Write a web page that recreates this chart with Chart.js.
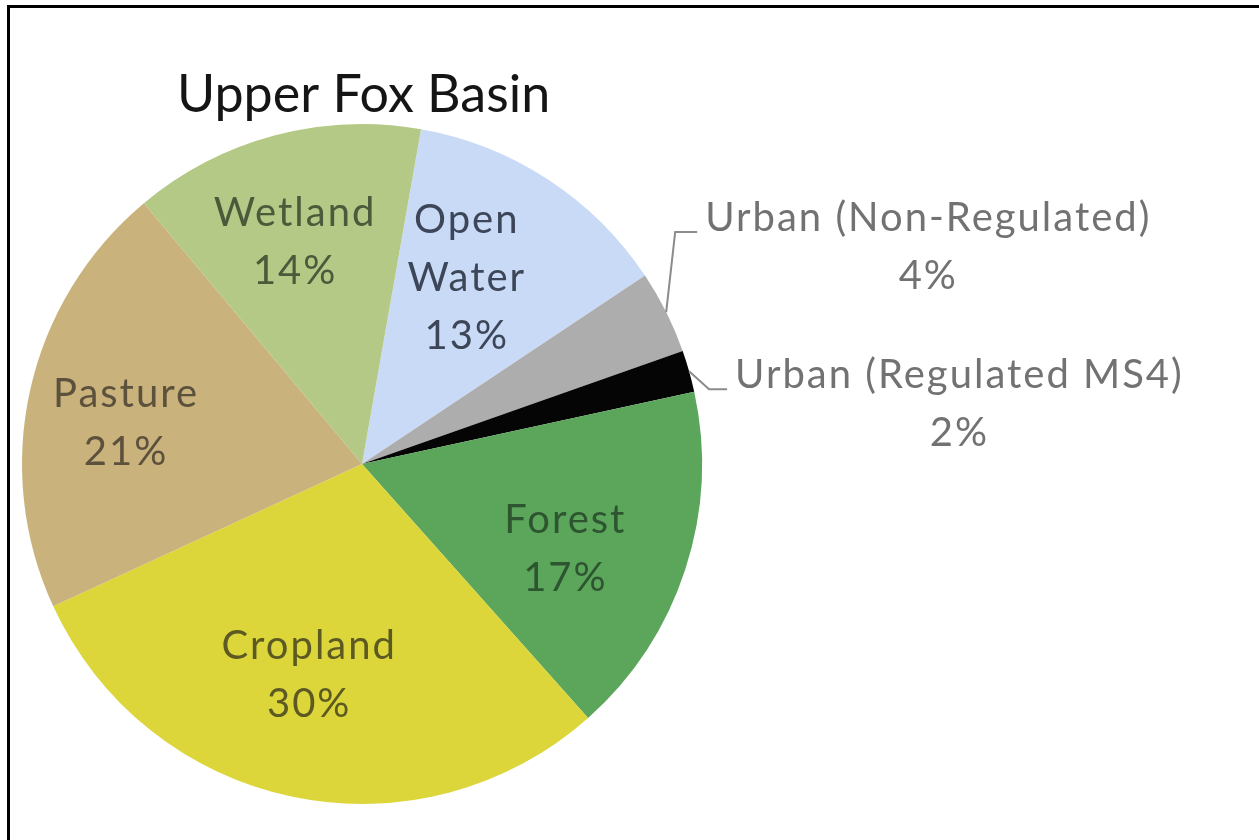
<!DOCTYPE html>
<html lang="en">
    <head>
        <meta charset="UTF-8">
        <title>Upper Fox Basin</title>
        <script src="https://cdn.jsdelivr.net/npm/chart.js"></script>
        <style>
            html, body { margin: 0; padding: 0; background: #fff; overflow: hidden; }
            .frame {
                position: absolute; left: 7px; top: 5px; width: 1300px; height: 900px;
                border-left: 3px solid #000; border-top: 3px solid #000;
            }
            .chart-container { position: absolute; left: 0; top: 0; width: 1259px; height: 840px; }
        </style>
    </head>
    <body>
        <div class="frame"></div>
        <div class="chart-container">
            <canvas id="pieChart" width="1259" height="840"></canvas>
        </div>

        <script>
            const categories = ['Open Water', 'Urban (Non-Regulated)', 'Urban (Regulated MS4)', 'Forest', 'Cropland', 'Pasture', 'Wetland'];
            const shares = [13, 4, 2, 17, 30, 21, 14];
            const labelLines = [['Open', 'Water'], ['Urban (Non-Regulated)'], ['Urban (Regulated MS4)'], ['Forest'], ['Cropland'], ['Pasture'], ['Wetland']];
            const sliceColors = ['#c9daf6', '#adadad', '#050505', '#5ca65c', '#dcd63b', '#c9b27c', '#b4c986'];
            const textColors = ['#3d4658', '#727272', '#727272', '#2d5530', '#5c5a22', '#5c513c', '#4a5a3a'];
            const outside = [false, true, true, false, false, false, false];
            // small hand nudges of the in-slice labels, px
            const labelNudge = [[-18, 2], [0, 0], [0, 0], [-10, 16], [-7, -9], [-17, 8], [-9, -5]];

            const FONT = '40px Lato, "Open Sans", sans-serif';
            const LINE_H = 58;

            // draws title, in-slice labels and the two callouts with leader lines
            const labelPlugin = {
                id: 'sliceLabels',
                afterDatasetsDraw(chart) {
                    const c = chart.ctx;
                    const arcs = chart.getDatasetMeta(0).data;
                    c.save();
                    c.font = '52px Lato, "Open Sans", sans-serif';
                    c.fillStyle = '#151515';
                    c.textAlign = 'left';
                    c.textBaseline = 'alphabetic';
                    c.fillText('Upper Fox Basin', 177, 112);

                    c.font = FONT;
                    c.letterSpacing = '2px';
                    c.textAlign = 'center';
                    c.textBaseline = 'middle';
                    arcs.forEach((arc, i) => {
                        const p = arc.getProps(['x', 'y', 'startAngle', 'endAngle', 'outerRadius']);
                        const mid = (p.startAngle + p.endAngle) / 2;
                        const lines = labelLines[i].concat([shares[i] + '%']);
                        c.fillStyle = textColors[i];
                        if (!outside[i]) {
                            const r = p.outerRadius * 0.66;
                            const cx = p.x + Math.cos(mid) * r + labelNudge[i][0];
                            const cy = p.y + Math.sin(mid) * r + labelNudge[i][1];
                            const top = cy - (lines.length - 1) * LINE_H / 2;
                            lines.forEach((t, k) => c.fillText(t, cx, top + k * LINE_H));
                        } else {
                            const ex = p.x + Math.cos(mid) * p.outerRadius;
                            const ey = p.y + Math.sin(mid) * p.outerRadius;
                            let bend, end;
                            if (i === 1) {
                                bend = [ex + 9, ey - 80];
                                end = [bend[0] + 22, bend[1]];
                            } else {
                                bend = [ex + 20, ey + 18];
                                end = [bend[0] + 18, bend[1]];
                            }
                            c.strokeStyle = '#8c8c8c';
                            c.lineWidth = 2;
                            c.beginPath();
                            c.moveTo(ex, ey);
                            c.lineTo(bend[0], bend[1]);
                            c.lineTo(end[0], end[1]);
                            c.stroke();
                            c.textAlign = 'left';
                            const w = c.measureText(lines[0]).width;
                            const lx = end[0] + 8;
                            const ly = end[1] - 14;
                            c.fillText(lines[0], lx, ly);
                            c.textAlign = 'center';
                            c.fillText(lines[1], lx + w / 2, ly + LINE_H);
                        }
                    });
                    c.restore();
                }
            };

            const ctx = document.getElementById('pieChart').getContext('2d');
            const chart = new Chart(ctx, {
                type: 'pie',
                data: {
                    labels: categories,
                    datasets: [{
                        data: shares,
                        backgroundColor: sliceColors,
                        borderWidth: 0
                    }]
                },
                options: {
                    responsive: false,
                    animation: false,
                    rotation: 10,
                    layout: { padding: { left: 22, right: 557, top: 124, bottom: 36 } },
                    plugins: {
                        legend: { display: false },
                        tooltip: { enabled: false },
                        title: { display: false }
                    }
                },
                plugins: [labelPlugin]
            });
        </script>
    </body>
</html>
